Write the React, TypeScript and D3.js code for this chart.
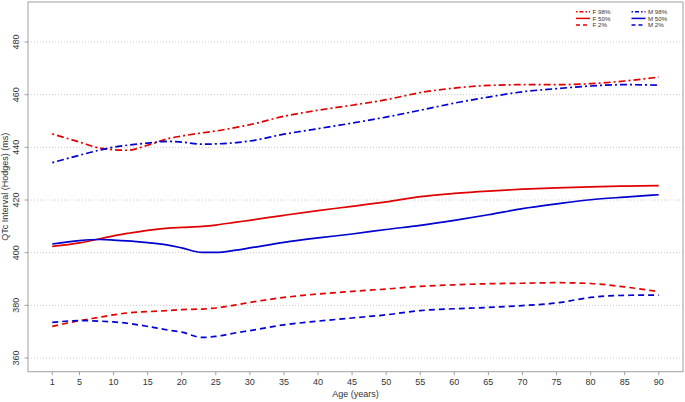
import React from "react";
import * as d3 from "d3";

const ages = [1, 5, 8, 10, 12, 15, 18, 20, 23, 25, 28, 30, 35, 40, 45, 50, 55, 60, 65, 70, 75, 80, 85, 90];

const f98 = [445.1, 442.0, 439.7, 439.1, 438.9, 440.8, 443.3, 444.3, 445.5, 446.2, 447.6, 448.6, 451.8, 454.1, 456.0, 458.1, 460.8, 462.5, 463.5, 463.8, 463.8, 464.2, 465.2, 466.7];
const m98 = [434.2, 437.0, 439.0, 440.1, 440.8, 441.6, 442.3, 442.0, 441.2, 441.3, 441.8, 442.4, 445.0, 447.1, 449.2, 451.5, 454.1, 456.8, 459.1, 461.1, 462.3, 463.3, 463.8, 463.6];
const f50 = [402.4, 403.7, 405.3, 406.4, 407.3, 408.5, 409.3, 409.6, 410.0, 410.5, 411.6, 412.3, 414.2, 416.0, 417.6, 419.3, 421.3, 422.5, 423.4, 424.1, 424.6, 425.0, 425.3, 425.5];
const m50 = [403.3, 404.6, 405.0, 404.8, 404.5, 403.8, 402.9, 401.8, 400.1, 400.1, 401.0, 401.8, 403.9, 405.6, 407.1, 408.8, 410.4, 412.3, 414.4, 416.7, 418.5, 420.1, 421.1, 422.0];
const f2 = [372.0, 374.2, 375.5, 376.4, 377.1, 377.6, 378.0, 378.4, 378.6, 379.0, 380.2, 381.1, 383.0, 384.3, 385.3, 386.2, 387.2, 387.8, 388.2, 388.4, 388.6, 388.3, 387.0, 385.2];
const m2 = [373.5, 374.2, 374.0, 373.7, 373.2, 372.0, 370.6, 369.8, 367.8, 368.2, 369.6, 370.4, 372.6, 374.0, 375.2, 376.4, 378.0, 378.7, 379.2, 379.9, 380.9, 383.0, 383.8, 383.9];

const xTicks = [1, 5, 10, 15, 20, 25, 30, 35, 40, 45, 50, 55, 60, 65, 70, 75, 80, 85, 90];
const yTicks = [360, 380, 400, 420, 440, 460, 480];

const seriesNames = ["F 98%", "F 50%", "F 2%", "M 98%", "M 50%", "M 2%"];
const seriesData = [f98, f50, f2, m98, m50, m2];

const RED = "#e00000";
const BLUE = "#0000d0";
const DOTDASH = "2,3,7,3";
const DASHED = "6,4";

const styles = [
  { color: RED, dash: DOTDASH },
  { color: RED, dash: null },
  { color: RED, dash: DASHED },
  { color: BLUE, dash: DOTDASH },
  { color: BLUE, dash: null },
  { color: BLUE, dash: DASHED },
];

export default function App() {
  const W = 685;
  const H = 402;
  const left = 28, right = 683, top = 2, bottom = 371.7;
  const x = d3.scaleLinear().domain([-2.56, 93.56]).range([left, right]);
  const y = d3.scaleLinear().domain([354.8, 495.2]).range([bottom, top]);
  const line = d3
    .line<number>()
    .x((_, i) => x(ages[i]))
    .y((d) => y(d))
    .curve(d3.curveMonotoneX);
  const font = "'Liberation Sans', Arial, sans-serif";

  return (
    <svg
      width={W}
      height={H}
      style={{ position: "absolute", left: 0, top: 0, background: "#fff" }}
      fontFamily={font}
    >
      <rect x={0} y={0} width={W} height={H} fill="#fff" />
      {yTicks.map((t) => (
        <line
          key={"g" + t}
          x1={left}
          x2={right}
          y1={y(t)}
          y2={y(t)}
          stroke="#c8c8c8"
          strokeWidth={1}
          strokeDasharray="1,2"
        />
      ))}
      {seriesData.map((d, i) => (
        <path
          key={"s" + i}
          d={line(d) || ""}
          fill="none"
          stroke={styles[i].color}
          strokeWidth={1.7}
          strokeDasharray={styles[i].dash || undefined}
        />
      ))}
      <rect
        x={left}
        y={top}
        width={right - left}
        height={bottom - top}
        fill="none"
        stroke="#a0a0a0"
        strokeWidth={1}
      />
      {xTicks.map((t) => (
        <g key={"x" + t}>
          <line x1={x(t)} x2={x(t)} y1={bottom} y2={bottom + 3.5} stroke="#a0a0a0" />
          <text x={x(t)} y={385} fontSize={9} textAnchor="middle" fill="#333">
            {t}
          </text>
        </g>
      ))}
      {yTicks.map((t) => (
        <g key={"y" + t}>
          <line x1={left - 3.5} x2={left} y1={y(t)} y2={y(t)} stroke="#a0a0a0" />
          <text
            transform={`translate(${19},${y(t)}) rotate(-90)`}
            fontSize={9}
            textAnchor="middle"
            fill="#333"
          >
            {t}
          </text>
        </g>
      ))}
      <text x={(left + right) / 2} y={397} fontSize={9} textAnchor="middle" fill="#333">
        Age (years)
      </text>
      <text
        transform={`translate(${8},${(top + bottom) / 2}) rotate(-90)`}
        fontSize={9}
        textAnchor="middle"
        fill="#333"
      >
        QTc Interval (Hodges) (ms)
      </text>
      {seriesNames.map((n, i) => {
        const col = Math.floor(i / 3);
        const row = i % 3;
        const x0 = col === 0 ? 576 : 631.5;
        const ly = 11.8 + row * 6.6;
        return (
          <g key={"l" + i}>
            <line
              x1={x0}
              x2={x0 + 14}
              y1={ly}
              y2={ly}
              stroke={styles[i].color}
              strokeWidth={1.5}
              strokeDasharray={styles[i].dash ? (i % 3 === 0 ? "1.5,2,4,2" : "4,3") : undefined}
            />
            <text x={x0 + 16.5} y={ly + 2.2} fontSize={6.2} fill="#333">
              {n}
            </text>
          </g>
        );
      })}
    </svg>
  );
}
